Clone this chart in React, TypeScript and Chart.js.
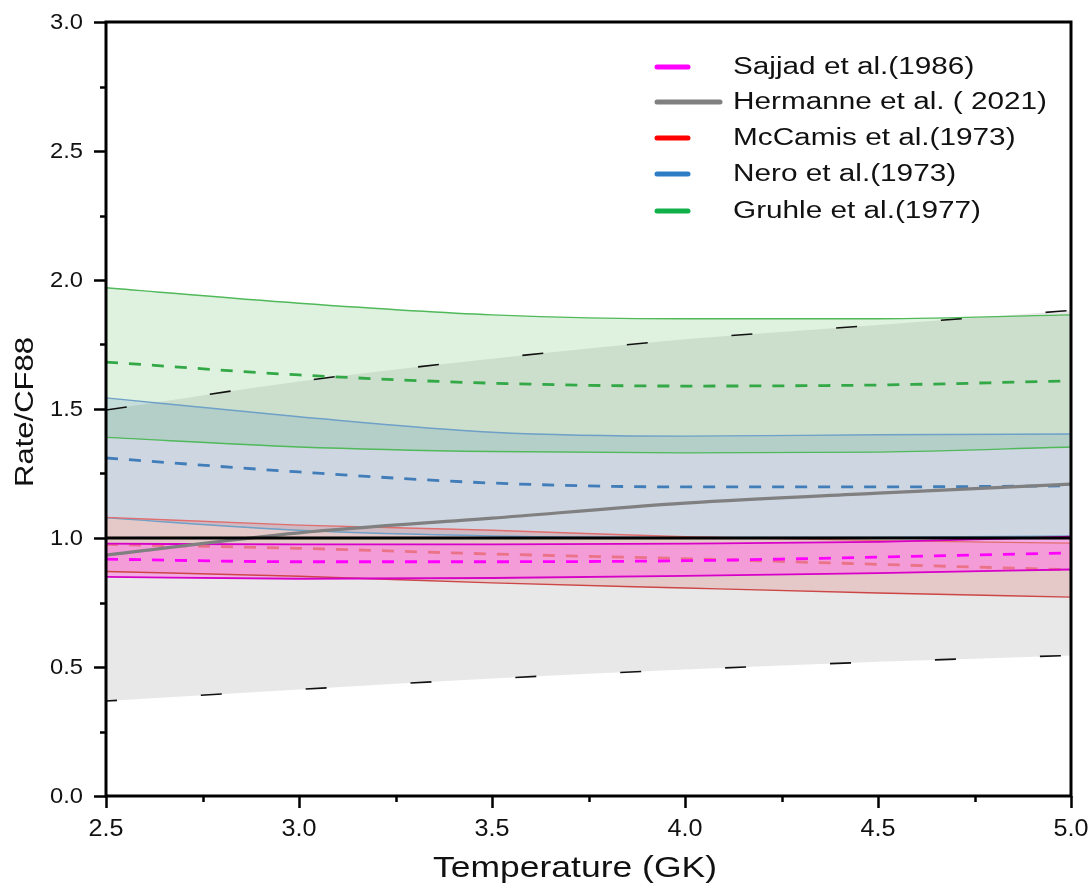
import React, { useEffect, useRef } from "react";
import { Chart, registerables } from "chart.js";

Chart.register(...registerables);

// ---- Data ----
const temps = [2.5, 3.0, 3.5, 4.0, 4.5, 5.0];

const refLine = [1, 1, 1, 1, 1, 1];

const hermanneLow = [0.368, 0.413, 0.455, 0.49, 0.52, 0.545];
const hermanneMid = [0.934, 1.02, 1.077, 1.135, 1.174, 1.209];
const hermanneHigh = [1.496, 1.607, 1.695, 1.77, 1.826, 1.882];

const gruhleLow = [1.39, 1.353, 1.335, 1.33, 1.333, 1.353];
const gruhleMid = [1.682, 1.632, 1.6, 1.589, 1.593, 1.609];
const gruhleHigh = [1.97, 1.91, 1.865, 1.85, 1.85, 1.865];

const neroLow = [1.078, 1.03, 1.008, 1.002, 1.003, 1.008];
const neroMid = [1.31, 1.256, 1.213, 1.198, 1.198, 1.202];
const neroHigh = [1.543, 1.47, 1.41, 1.395, 1.4, 1.403];

const mcCamisLow = [0.87, 0.852, 0.826, 0.806, 0.787, 0.771];
const mcCamisMid = [0.975, 0.96, 0.938, 0.92, 0.898, 0.877];
const mcCamisHigh = [1.08, 1.05, 1.03, 1.005, 0.99, 0.98];

const sajjadLow = [0.849, 0.842, 0.845, 0.853, 0.864, 0.878];
const sajjadMid = [0.918, 0.908, 0.908, 0.912, 0.926, 0.942];
const sajjadHigh = [0.978, 0.975, 0.975, 0.978, 0.985, 1.005];

const xTicks = [2.5, 3.0, 3.5, 4.0, 4.5, 5.0];
const yTicks = [0, 0.5, 1.0, 1.5, 2.0, 2.5, 3.0];
const xTickLabels = ["2.5", "3.0", "3.5", "4.0", "4.5", "5.0"];
const yTickLabels = ["0.0", "0.5", "1.0", "1.5", "2.0", "2.5", "3.0"];

const legendLabels = [
  "Sajjad et al.(1986)",
  "Hermanne et al. ( 2021)",
  "McCamis et al.(1973)",
  "Nero et al.(1973)",
  "Gruhle et al.(1977)",
];
const legendColors = ["#ff00ff", "#808080", "#ff0000", "#2e7dc4", "#12b04a"];

const xTitle = "Temperature (GK)";
const yTitle = "Rate/CF88";

const FONT = "'Liberation Sans', Arial, sans-serif";

function pts(ys: number[]) {
  return temps.map((t, i) => ({ x: t, y: ys[i] }));
}

function edge(label: string, ys: number[], color: string, order: number, width = 1.4, fill: any = false, bg = "transparent") {
  return {
    label,
    data: pts(ys),
    borderColor: color,
    borderWidth: width,
    backgroundColor: bg,
    pointRadius: 0,
    fill,
    order,
    cubicInterpolationMode: "monotone" as const,
  };
}

function dashed(label: string, ys: number[], color: string, order: number, dash: number[], width = 2.8) {
  return {
    label,
    data: pts(ys),
    borderColor: color,
    borderWidth: width,
    borderDash: dash,
    pointRadius: 0,
    fill: false,
    order,
    cubicInterpolationMode: "monotone" as const,
  };
}

const decorPlugin = {
  id: "decor",
  afterDraw(chart: any) {
    const { ctx, chartArea, scales } = chart;
    const xs = scales.x;
    const ys = scales.y;
    ctx.save();
    // frame
    ctx.strokeStyle = "#000";
    ctx.lineWidth = 3;
    ctx.strokeRect(chartArea.left, chartArea.top, chartArea.right - chartArea.left, chartArea.bottom - chartArea.top);
    // ticks
    ctx.lineWidth = 2.5;
    ctx.beginPath();
    for (let v = 0; v <= 3.0001; v += 0.25) {
      const py = Math.round(ys.getPixelForValue(v)) + 0.5;
      const major = Math.abs(v * 2 - Math.round(v * 2)) < 1e-6;
      ctx.moveTo(chartArea.left - (major ? 12 : 6), py);
      ctx.lineTo(chartArea.left, py);
    }
    for (let v = 2.5; v <= 5.0001; v += 0.25) {
      const px = Math.round(xs.getPixelForValue(v)) + 0.5;
      const major = Math.abs(v * 2 - Math.round(v * 2)) < 1e-6;
      ctx.moveTo(px, chartArea.bottom);
      ctx.lineTo(px, chartArea.bottom + (major ? 12 : 6));
    }
    ctx.stroke();

    ctx.fillStyle = "#111";
    ctx.textBaseline = "middle";

    // tick labels
    ctx.font = `22px ${FONT}`;
    const syT = 33 / ctx.measureText("0.5").width;
    ctx.textAlign = "right";
    yTicks.forEach((v, i) => {
      ctx.save();
      ctx.translate(83, ys.getPixelForValue(v) + 1);
      ctx.scale(syT, 1);
      ctx.fillText(yTickLabels[i], 0, 0);
      ctx.restore();
    });
    ctx.font = `23px ${FONT}`;
    const sxT = 35 / ctx.measureText("2.5").width;
    ctx.textAlign = "center";
    xTicks.forEach((v, i) => {
      ctx.save();
      ctx.translate(xs.getPixelForValue(v), 830);
      ctx.scale(sxT, 1);
      ctx.fillText(xTickLabels[i], 0, 0);
      ctx.restore();
    });

    // axis titles
    ctx.font = `30px ${FONT}`;
    ctx.save();
    ctx.translate(575, 869);
    const wX = ctx.measureText(xTitle).width;
    ctx.scale(284 / wX, 1);
    ctx.fillText(xTitle, 0, 0);
    ctx.restore();

    ctx.font = `26px ${FONT}`;
    ctx.save();
    ctx.translate(26, (chartArea.top + chartArea.bottom) / 2 + 3);
    ctx.rotate(-Math.PI / 2);
    const wY = ctx.measureText(yTitle).width;
    ctx.scale(150 / wY, 1);
    ctx.fillText(yTitle, 0, 0);
    ctx.restore();

    // legend
    const rowY = [67, 102, 138, 174, 211];
    ctx.textAlign = "left";
    ctx.font = `23px ${FONT}`;
    const sx = 314 / ctx.measureText(legendLabels[1]).width;
    legendLabels.forEach((lab, i) => {
      const y = rowY[i];
      ctx.strokeStyle = legendColors[i];
      ctx.lineWidth = 5;
      ctx.lineCap = "round";
      ctx.beginPath();
      ctx.moveTo(657, y);
      ctx.lineTo(i === 1 ? 720 : 688, y);
      ctx.stroke();
      ctx.save();
      ctx.translate(733, y + 1);
      ctx.scale(sx, 1);
      ctx.fillStyle = "#111";
      ctx.fillText(lab, 0, 0);
      ctx.restore();
    });
    ctx.restore();
  },
};

export default function App() {
  const ref = useRef<HTMLCanvasElement | null>(null);

  useEffect(() => {
    if (!ref.current) return;
    const blackDash = [21, 84];
    const colDash = [12, 11];
    const chart = new Chart(ref.current, {
      type: "line",
      data: {
        datasets: [
          // Hermanne band (bottom)
          { ...edge("hermLow", hermanneLow, "#111111", 90, 1.6), borderDash: blackDash, borderDashOffset: 10 } as any,
          { ...edge("hermHigh", hermanneHigh, "#111111", 89, 1.6, "-1", "rgba(150,150,150,0.22)"), borderDash: blackDash } as any,
          // Gruhle
          edge("gruLow", gruhleLow, "rgba(80,185,90,1)", 80) as any,
          edge("gruHigh", gruhleHigh, "rgba(80,185,90,1)", 79, 1.4, "-1", "rgba(40,170,40,0.15)") as any,
          dashed("gruMid", gruhleMid, "rgba(50,168,70,1)", 78, colDash) as any,
          // Nero
          edge("neroLow", neroLow, "rgba(110,160,200,1)", 70) as any,
          edge("neroHigh", neroHigh, "rgba(110,160,200,1)", 69, 1.4, "-1", "rgba(46,110,180,0.15)") as any,
          dashed("neroMid", neroMid, "rgba(65,125,185,1)", 68, colDash) as any,
          // McCamis
          edge("mcLow", mcCamisLow, "rgba(205,70,70,1)", 60) as any,
          edge("mcHigh", mcCamisHigh, "rgba(225,110,110,1)", 59, 1.4, "-1", "rgba(220,40,40,0.16)") as any,
          dashed("mcMid", mcCamisMid, "rgba(235,115,135,1)", 58, colDash) as any,
          // Sajjad
          edge("sajLow", sajjadLow, "rgba(215,0,200,1)", 50, 1.8) as any,
          edge("sajHigh", sajjadHigh, "rgba(215,0,200,1)", 49, 1.8, "-1", "rgba(255,120,230,0.55)") as any,
          dashed("sajMid", sajjadMid, "#ff00ff", 48, colDash) as any,
          // Hermanne recommended
          edge("hermMid", hermanneMid, "#808080", 20, 3.2) as any,
          // reference line
          edge("ref", refLine, "#000000", 10, 3) as any,
        ],
      },
      options: {
        responsive: false,
        animation: false,
        layout: { padding: { left: 0, top: 22, right: 21, bottom: 0 } },
        plugins: {
          legend: { display: false },
          tooltip: { enabled: false },
          filler: { drawTime: "beforeDatasetsDraw", propagate: false },
        } as any,
        elements: { line: { tension: 0 } },
        scales: {
          x: {
            type: "linear",
            min: 2.5,
            max: 5.0,
            afterBuildTicks: (s: any) => {
              s.ticks = xTicks.map((v) => ({ value: v }));
            },
            afterFit: (s: any) => {
              s.height = 97;
            },
            ticks: { display: false },
            grid: { display: false },
            border: { display: false },
          },
          y: {
            type: "linear",
            min: 0,
            max: 3,
            afterBuildTicks: (s: any) => {
              s.ticks = yTicks.map((v) => ({ value: v }));
            },
            afterFit: (s: any) => {
              s.width = 106;
            },
            ticks: { display: false },
            grid: { display: false },
            border: { display: false },
          },
        },
      },
      plugins: [decorPlugin],
    });
    return () => chart.destroy();
  }, []);

  return (
    <div style={{ position: "fixed", left: 0, top: 0, width: 1092, height: 893, background: "#fff" }}>
      <canvas ref={ref} width={1092} height={893} style={{ display: "block" }} />
    </div>
  );
}
